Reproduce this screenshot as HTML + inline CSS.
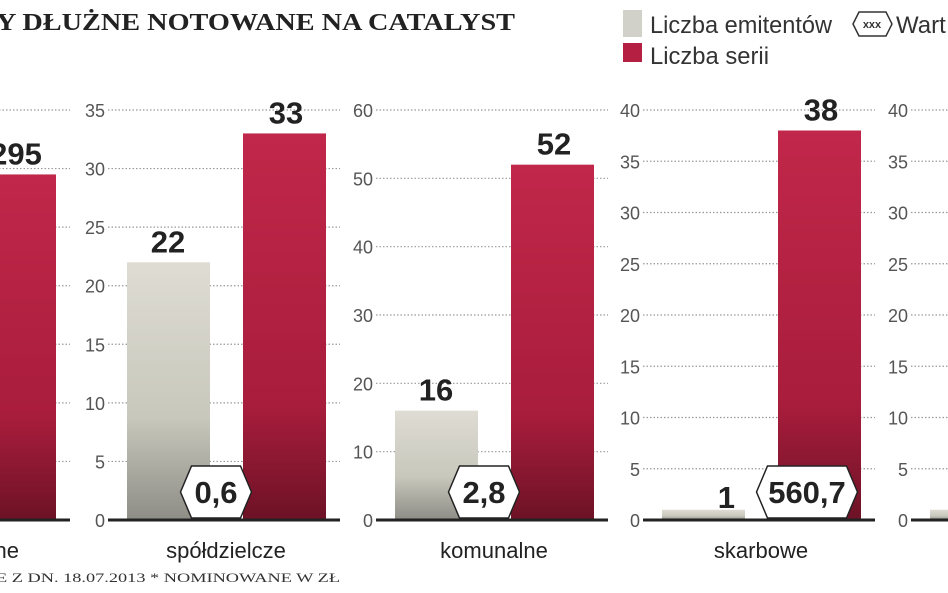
<!DOCTYPE html>
<html><head><meta charset="utf-8"><style>
body{margin:0;background:#fff;}
svg{display:block;font-family:"Liberation Sans Narrow","Liberation Sans",sans-serif;}
</style></head><body>
<svg id="c" width="948" height="593" viewBox="0 0 948 593">
<defs>
<linearGradient id="gGrey" x1="0" y1="0" x2="0" y2="1"><stop offset="0" stop-color="#dedcd3"/><stop offset="0.6" stop-color="#c9c8bd"/><stop offset="1" stop-color="#8e8d86"/></linearGradient>
<linearGradient id="gRed" x1="0" y1="0" x2="0" y2="1"><stop offset="0" stop-color="#c1274a"/><stop offset="0.7" stop-color="#a91d3c"/><stop offset="1" stop-color="#6d1226"/></linearGradient>
</defs>
<text x="-4" y="30" font-family="Liberation Serif,serif" font-weight="bold" font-size="24" fill="#222" textLength="519" lengthAdjust="spacingAndGlyphs">Y DŁUŻNE NOTOWANE NA CATALYST</text>
<rect x="623" y="10" width="19" height="27" fill="#d2d1c9"/>
<text x="650" y="33" font-size="24" fill="#333" textLength="182" lengthAdjust="spacingAndGlyphs">Liczba emitentów</text>
<g><polygon points="853,24 859,12 886,12 892,24 886,36 859,36" fill="#fff" stroke="#333" stroke-width="1.5"/><text x="872" y="28" font-size="11" font-weight="bold" text-anchor="middle" fill="#333">xxx</text></g>
<text x="896" y="33" font-size="24" fill="#333">Wart</text>
<rect x="623" y="43" width="19" height="19" fill="#b51f42"/>
<text x="650" y="64" font-size="24" fill="#333" textLength="119" lengthAdjust="spacingAndGlyphs">Liczba serii</text>
<text x="-4" y="582" font-family="Liberation Serif,serif" font-size="13" fill="#333" textLength="344" lengthAdjust="spacingAndGlyphs">E Z DN. 18.07.2013 * NOMINOWANE W ZŁ</text>
<g id="plots"></g>
</svg>
<script>
const categories = ["korporacyjne","spółdzielcze","komunalne","skarbowe","hipoteczne"];
const emitters = [null,22,16,1,1];
const series = [295,33,52,38,null];
const values = [null,"0,6","2,8","560,7",null];
const axisMax = [350,35,60,40,40];
const axisStep = [50,5,10,5,5];
const NS="http://www.w3.org/2000/svg";
const g=document.getElementById('plots');
const origins=[-180,90,358,625,893];
const top0=110, base=520;
function el(t,a,p){const e=document.createElementNS(NS,t);for(const k in a)e.setAttribute(k,a[k]);(p||g).appendChild(e);return e;}
categories.forEach((cat,i)=>{
  const ox=origins[i];
  const y=v=>base-(v/axisMax[i])*(base-top0);
  const pg=el('g',{});
  
  
  for(let v=0;v<=axisMax[i];v+=axisStep[i]){
    const t=el('text',{x:ox+15,y:y(v)+7,'font-size':18,'text-anchor':'end',fill:'#555'},pg);
    t.textContent=v;
    
    
    if(v>0){const l=el('line',{x1:ox+18,x2:ox+250,y1:y(v),y2:y(v),stroke:'#999','stroke-width':1.2,'stroke-dasharray':'1.5 2'},pg);
    
    }
  }
  if(emitters[i]!=null){
    const b=el('rect',{x:ox+37,y:y(emitters[i]),width:83,height:base-y(emitters[i]),fill:'url(#gGrey)'},pg);
    
    
    const t=el('text',{x:ox+(emitters[i]<3?110:78),y:emitters[i]<3?base-12:y(emitters[i])-10,'font-size':31,'font-weight':'bold','text-anchor':emitters[i]<3?'end':'middle',fill:'#222'},pg);
    t.textContent=emitters[i];
    
    
  }
  if(series[i]!=null){
    const b=el('rect',{x:ox+153,y:y(series[i]),width:83,height:base-y(series[i]),fill:'url(#gRed)'},pg);
    
    
    const t=el('text',{x:ox+196,y:y(series[i])-10,'font-size':31,'font-weight':'bold','text-anchor':'middle',fill:'#222'},pg);
    t.textContent=series[i];
    
    
  }
  const bl=el('line',{x1:ox+18,x2:ox+250,y1:base,y2:base,stroke:'#222','stroke-width':3},pg);
  
  
  if(values[i]!=null){
    const w=values[i].length*15+26, cx=ox+(values[i].length>3?182:126), cy=492;
    const hg=el('g',{},pg);
    
    
    el('polygon',{points:`${cx-w/2},${cy} ${cx-w/2+11},${cy-26} ${cx+w/2-11},${cy-26} ${cx+w/2},${cy} ${cx+w/2-11},${cy+26} ${cx-w/2+11},${cy+26}`,fill:'#fff',stroke:'#222','stroke-width':1.5},hg);
    const t=el('text',{x:cx,y:cy+11,'font-size':31,'font-weight':'bold','text-anchor':'middle',fill:'#222'},hg);
    t.textContent=values[i];
  }
  const c=el('text',{x:ox+136,y:558,'font-size':22,'text-anchor':'middle',fill:'#222'},pg);
  c.textContent=cat;
  
  
});
</script>
</body></html>
